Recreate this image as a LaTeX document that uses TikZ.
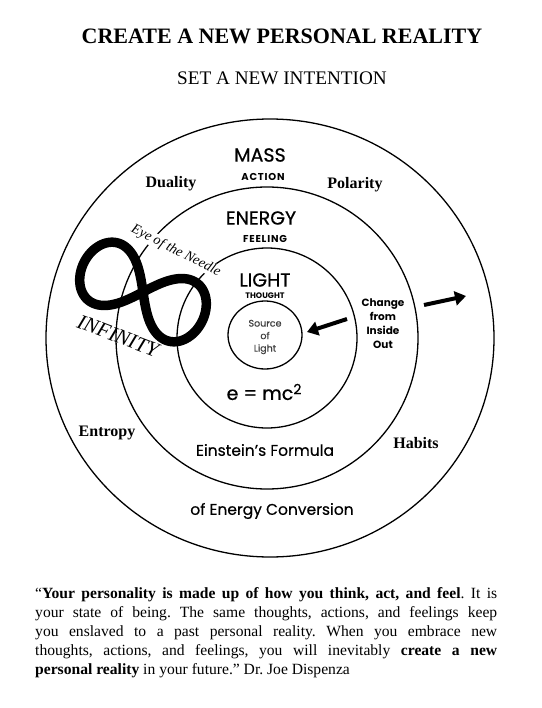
\documentclass[tikz,border=0pt]{standalone}
\usepackage{fontspec}
\setmainfont{Liberation Serif}
\newfontfamily\geo{Poppins}[FakeBold=0.6]
\newfontfamily\geob{Poppins}[FakeBold=0.4]
\newfontfamily\geoplain{Poppins}
\usetikzlibrary{arrows.meta}
\tikzset{
  ring/.style={line width=1.3pt},
  bigword/.style={font=\geo\fontsize{19}{19}\selectfont},
  subword/.style={font=\geoplain\bfseries\fontsize{10}{10}\selectfont},
  serifword/.style={font=\bfseries\fontsize{16}{16}\selectfont},
  ringtext/.style={font=\geob\fontsize{15.5}{16}\selectfont},
  fatarrow/.style={line width=4pt,-{Triangle[length=11pt,width=14pt]}}
}
\begin{document}
\frenchspacing
\begin{tikzpicture}[x=1pt,y=-1pt]
\useasboundingbox (0,0) rectangle (541,708);
\fill[white] (0,0) rectangle (541,708);

% titles
\node[font=\bfseries\fontsize{22}{22}\selectfont] (title) at (282,36) {CREATE A NEW PERSONAL REALITY};
\node[font=\fontsize{19.2}{19.2}\selectfont] (subtitle) at (282,78) {SET A NEW INTENTION};

% circles
\coordinate (co) at (270,338);
\coordinate (c) at (267,338);
\coordinate (cs) at (265,335);
\draw[ring] (co) ellipse (224 and 219);
\draw[ring] (c) circle (151);
\draw[ring] (c) circle (90);
\draw[ring] (cs) ellipse (37 and 34);

% infinity
\begin{scope}[shift={(143,292)},rotate=-27]
\draw[line width=9.5pt,line join=round] plot[domain=0:360,samples=181,smooth]
  ({66*cos(\x)/(1+sin(\x)*sin(\x))},{1.4*66*sin(\x)*cos(\x)/(1+sin(\x)*sin(\x))});
\end{scope}
\node[font=\itshape\fontsize{14}{14}\selectfont,rotate=-27,fill=white,inner sep=0.5pt] (eye) at (176,251) {Eye of the Needle};
\node[font=\itshape\fontsize{21}{21}\selectfont,rotate=-21,inner sep=1pt] (inf) at (118,336) {INFINITY};

% outer ring words
\node[bigword] (mass) at (260,155) {MASS};
\node[subword] (action) at (263,177) {\addfontfeatures{LetterSpace=8}ACTION};
\node[serifword] (duality) at (171,184) {Duality};
\node[serifword] (polarity) at (355,185) {Polarity};
\node[serifword] (entropy) at (107,433) {Entropy};
\node[serifword] (habits) at (416,443) {Habits};
\node[ringtext] (conv) at (272,511) {of Energy Conversion};

% middle ring words
\node[bigword] (energy) at (261,218) {ENERGY};
\node[subword] (feeling) at (265,239) {\addfontfeatures{LetterSpace=8}FEELING};
\node[ringtext] (einstein) at (265,450) {Einstein’s Formula};
\node[font=\geoplain\bfseries\fontsize{10.5}{14}\selectfont,align=center] (change) at (383,324) {Change\\from\\Inside\\Out};

% inner ring words
\node[bigword] (light) at (265,280) {LIGHT};
\node[font=\geoplain\bfseries\fontsize{8}{8}\selectfont] (thought) at (265,296) {THOUGHT};
\node[font=\geob\fontsize{9.5}{12.5}\selectfont,text=black!75,align=center] (source) at (265,337) {Source\\of\\Light};
\node[font=\geo\fontsize{19}{19}\selectfont] (emc) at (264,392) {e = mc\raisebox{0.55ex}{\fontsize{14}{14}\selectfont 2}};

% arrows
\coordinate (a1s) at (347,319);
\coordinate (a1e) at (307,332);
\draw[fatarrow] (a1s) -- (a1e);
\coordinate (a2s) at (424,305);
\coordinate (a2e) at (466,296);
\draw[fatarrow] (a2s) -- (a2e);

% quote
\node[anchor=north west,inner sep=0pt,text width=462pt,align=justify,
      font=\fontsize{15.6}{19}\selectfont] (quote) at (35,587)
{“\textbf{Your personality is made up of how you think, act, and feel}. It is\linebreak
your state of being. The same thoughts, actions, and feelings keep\linebreak
you enslaved to a past personal reality. When you embrace new\linebreak
thoughts, actions, and feelings, you will inevitably \textbf{create a new}\linebreak
\textbf{personal reality} in your future.” Dr. Joe Dispenza};
\end{tikzpicture}
\end{document}
